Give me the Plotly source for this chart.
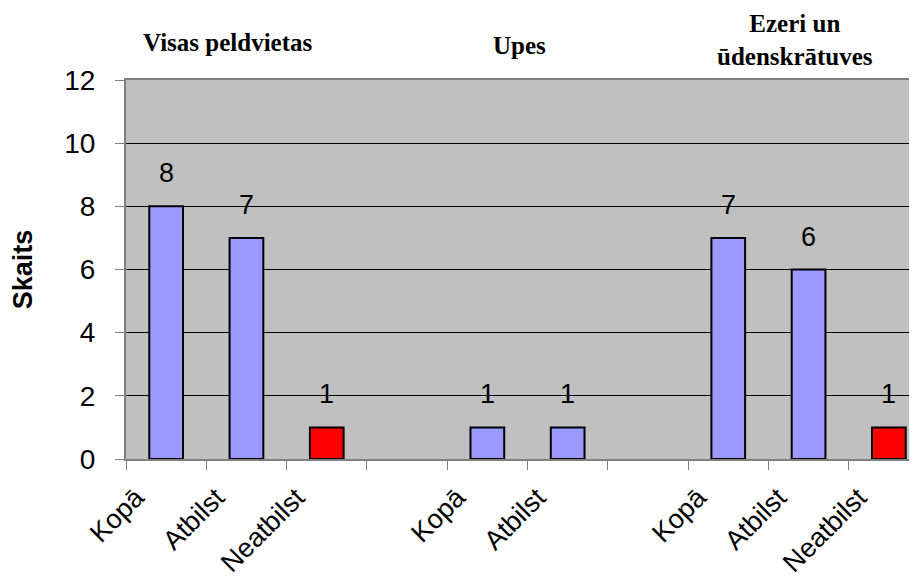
import plotly.graph_objects as go

# slot labels along x (blank slots separate the groups)
slot_labels = ["Kopā", "Atbilst", "Neatbilst", "", "Kopā", "Atbilst", "", "Kopā", "Atbilst", "Neatbilst"]
counts = [8, 7, 1, None, 1, 1, None, 7, 6, 1]
group_titles = ["<b>Visas peldvietas</b>", "<b>Upes</b>", "<b>Ezeri un<br>ūdenskrātuves</b>"]
group_title_x = [0.77, 4.4, 7.83]
group_title_y = [1.098, 1.092, 1.105]

slots = list(range(len(slot_labels)))
bar_colors = ["#FF0000" if s == "Neatbilst" else "#9999FF" for s in slot_labels]

fig = go.Figure()
fig.add_trace(go.Bar(x=slots, y=counts, width=0.42,
                     marker=dict(color=bar_colors, line=dict(color="black", width=2)),
                     showlegend=False, hoverinfo="y"))

# value labels above the bars
for s, v in zip(slots, counts):
    if v is None:
        continue
    fig.add_annotation(x=s, y=v, text=str(v), showarrow=False, yanchor="bottom", yshift=16,
                       font=dict(family="Arial, Liberation Sans", size=27, color="black"))

# group titles
for t, gx, gy in zip(group_titles, group_title_x, group_title_y):
    fig.add_annotation(x=gx, xref="x", y=gy, yref="paper", text=t, showarrow=False,
                       yanchor="middle", xanchor="center",
                       font=dict(family="Liberation Serif, Times New Roman", size=25, color="black"))

shown = [i for i, s in enumerate(slot_labels) if s]
fig.update_xaxes(range=[-0.5, 9.45], tickmode="array", tickvals=shown,
                 ticktext=[slot_labels[i] for i in shown], tickangle=-45,
                 ticks="", ticklabelshift=-30, ticklabelstandoff=10, automargin=False,
                 tickfont=dict(family="Arial, Liberation Sans", size=27, color="black"),
                 showgrid=False, showline=True, linecolor="#808080", linewidth=2, mirror=True,
                 minor=dict(tickvals=[i - 0.5 for i in range(11)], ticks="outside",
                            ticklen=9, tickcolor="#808080", tickwidth=1, showgrid=False))
fig.update_yaxes(range=[0, 12], dtick=2, ticks="outside", ticklen=9, tickcolor="#808080",
                 showgrid=True, gridcolor="black", gridwidth=1, zeroline=False,
                 showline=True, linecolor="#808080", linewidth=2, automargin=False,
                 tickfont=dict(family="Arial, Liberation Sans", size=28, color="black"),
                 ticklabelstandoff=14,
                 title=dict(text="<b>Skaits</b>", standoff=24,
                            font=dict(family="Arial, Liberation Sans", size=27, color="black")))

# the page body adds an 8px offset, so the margins are reduced by 8
fig.update_layout(width=917, height=584, plot_bgcolor="#C0C0C0", paper_bgcolor="white",
                  margin=dict(l=118, r=0, t=72, b=133), bargap=0.5)

fig.write_html("out.html")
